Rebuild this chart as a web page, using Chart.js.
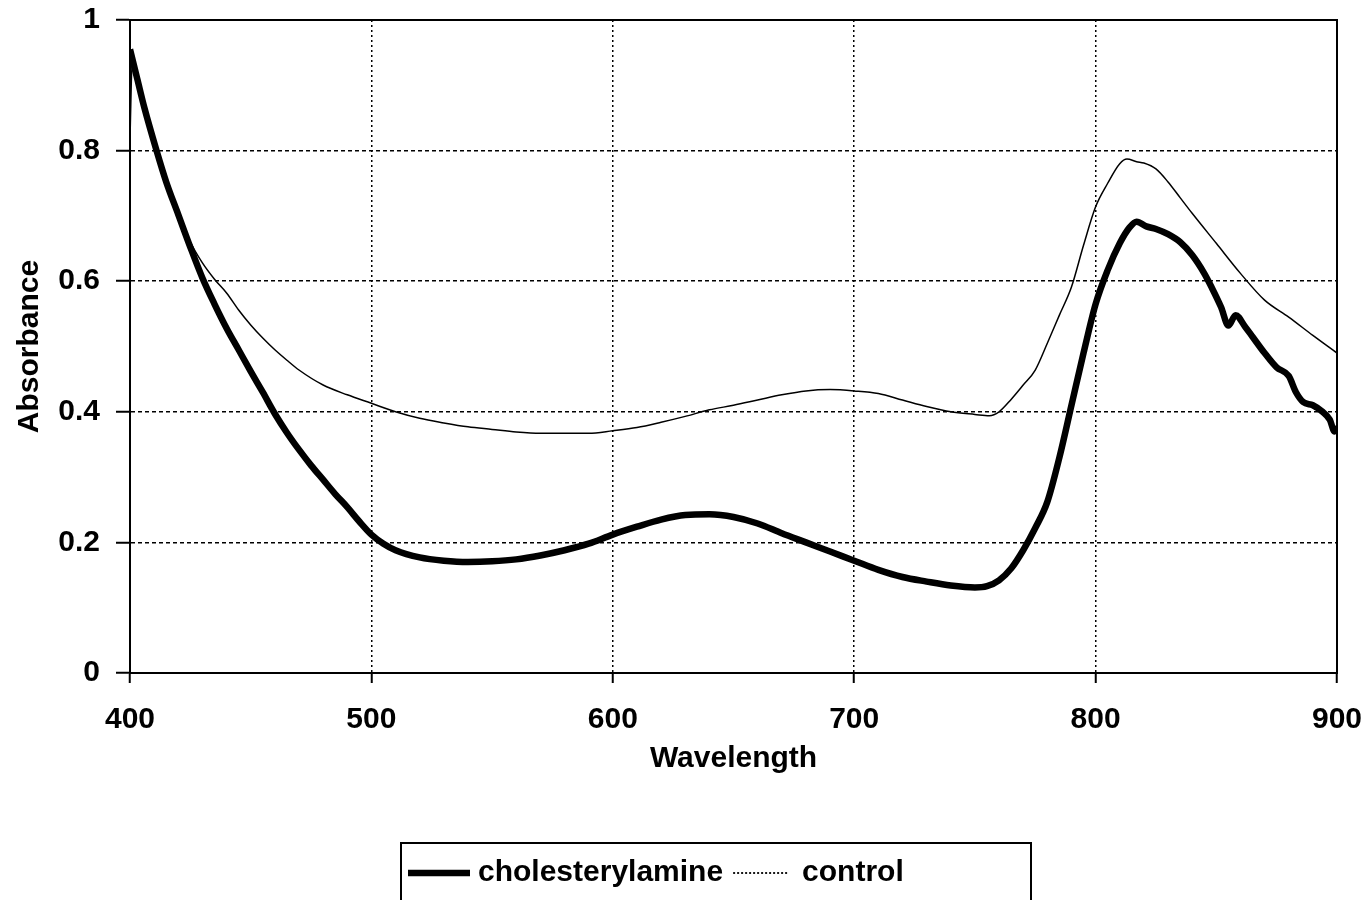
<!DOCTYPE html>
<html>
<head>
<meta charset="utf-8">
<title>Absorbance spectra</title>
<script src="https://cdn.jsdelivr.net/npm/chart.js@4/dist/chart.umd.min.js"></script>
<style>
  html, body { margin: 0; padding: 0; background: #fff; }
  #wrap { width: 1366px; height: 900px; }
</style>
</head>
<body>
<div id="wrap"><canvas id="c" width="1366" height="900"></canvas></div>
<script>
// Wavelength (nm) and absorbance readings for each sample
const cholWavelength = [400,403,406,411,415,420,425,430,435,440,445,450,455,460,465,470,475,480,485,490,495,500,505,510,520,530,540,550,560,570,580,590,600,610,620,630,640,650,660,670,680,690,700,710,720,730,740,750,755,760,765,770,775,780,785,790,795,800,805,810,814,817,821,825,830,835,840,845,848,852,855,858,862,865,870,875,880,883,886,890,894,897,899,900];
const cholAbsorbance = [0.955,0.91,0.865,0.80,0.752,0.702,0.652,0.605,0.565,0.528,0.495,0.462,0.43,0.397,0.368,0.342,0.318,0.296,0.274,0.254,0.232,0.212,0.198,0.188,0.177,0.172,0.170,0.171,0.174,0.180,0.188,0.198,0.212,0.224,0.235,0.242,0.243,0.239,0.229,0.214,0.200,0.186,0.172,0.158,0.147,0.140,0.134,0.131,0.133,0.142,0.160,0.188,0.222,0.262,0.33,0.41,0.49,0.565,0.617,0.658,0.682,0.691,0.684,0.680,0.672,0.660,0.640,0.612,0.591,0.560,0.532,0.548,0.530,0.515,0.490,0.468,0.455,0.430,0.415,0.410,0.400,0.388,0.370,0.378];

const ctrlWavelength = [400,401,403,406,411,415,420,425,430,435,440,445,450,455,460,465,470,480,490,500,510,520,530,540,550,560,570,580,590,600,610,620,630,640,650,660,670,680,690,700,710,720,730,740,750,756,760,765,770,775,780,785,790,795,800,805,810,813,817,820,825,830,835,840,850,860,870,880,890,900];
const ctrlAbsorbance = [0.82,0.945,0.91,0.865,0.80,0.75,0.705,0.66,0.628,0.603,0.582,0.556,0.533,0.513,0.495,0.479,0.464,0.441,0.426,0.413,0.400,0.390,0.383,0.377,0.373,0.369,0.367,0.367,0.367,0.371,0.376,0.384,0.393,0.403,0.410,0.418,0.426,0.432,0.434,0.432,0.428,0.418,0.408,0.400,0.396,0.394,0.400,0.419,0.441,0.464,0.505,0.548,0.591,0.655,0.714,0.750,0.780,0.787,0.783,0.781,0.772,0.752,0.728,0.704,0.658,0.612,0.571,0.545,0.517,0.490];

const seriesNames = ['cholesterylamine', 'control'];
const xTitle = 'Wavelength';
const yTitle = 'Absorbance';

const FONT = 'Liberation Sans, Arial, Helvetica, sans-serif';

function toPoints(xs, ys) {
  return xs.map((x, i) => ({ x: x, y: ys[i] }));
}

// Solid frame around the plotting area
const frame = {
  id: 'frame',
  afterDatasetsDraw(chart) {
    const { ctx, chartArea: a } = chart;
    ctx.save();
    ctx.strokeStyle = '#000';
    ctx.lineWidth = 2;
    ctx.setLineDash([]);
    ctx.strokeRect(a.left, a.top, a.right - a.left, a.bottom - a.top);
    ctx.restore();
  }
};

// Boxed legend below the axis title
const boxLegend = {
  id: 'boxLegend',
  afterDraw(chart) {
    const { ctx } = chart;
    const boxL = 401, boxT = 843, boxR = 1031, boxB = 910;
    const cy = 873;
    ctx.save();
    ctx.strokeStyle = '#000';
    ctx.lineWidth = 2;
    ctx.setLineDash([]);
    ctx.strokeRect(boxL, boxT, boxR - boxL, boxB - boxT);
    ctx.font = 'bold 30px ' + FONT;
    ctx.fillStyle = '#000';
    ctx.textBaseline = 'middle';
    ctx.textAlign = 'left';
    let x = 408;
    chart.data.datasets.forEach((ds, i) => {
      const len = i === 0 ? 62 : 56;
      ctx.beginPath();
      ctx.lineWidth = i === 0 ? 6.5 : 1.8;
      ctx.setLineDash(i === 0 ? [] : [2, 2]);
      ctx.moveTo(x, cy);
      ctx.lineTo(x + len, cy);
      ctx.stroke();
      ctx.setLineDash([]);
      x += len + (i === 0 ? 8 : 13);
      ctx.fillText(ds.label, x, cy);
      x += ctx.measureText(ds.label).width + 10;
    });
    ctx.restore();
  }
};

new Chart(document.getElementById('c'), {
  type: 'line',
  data: {
    datasets: [
      {
        label: seriesNames[0],
        data: toPoints(cholWavelength, cholAbsorbance),
        borderColor: '#000',
        borderWidth: 6.5,
        pointRadius: 0,
        cubicInterpolationMode: 'monotone',
        fill: false
      },
      {
        label: seriesNames[1],
        data: toPoints(ctrlWavelength, ctrlAbsorbance),
        borderColor: '#000',
        borderWidth: 1.5,
        pointRadius: 0,
        cubicInterpolationMode: 'monotone',
        fill: false
      }
    ]
  },
  options: {
    responsive: false,
    animation: false,
    devicePixelRatio: 1,
    layout: { padding: { left: 0, right: 29, top: 20, bottom: 123 } },
    plugins: {
      legend: { display: false },
      tooltip: { enabled: false }
    },
    scales: {
      x: {
        type: 'linear',
        min: 400,
        max: 900,
        ticks: {
          stepSize: 100,
          color: '#000',
          padding: 19,
          maxRotation: 0,
          font: { family: FONT, size: 30, weight: 'bold' }
        },
        grid: {
          color: '#000',
          lineWidth: 1.5,
          tickLength: 10,
          tickColor: '#000',
          tickWidth: 2,
          tickBorderDash: []
        },
        border: { display: true, color: '#000', width: 2, dash: [2, 3] },
        title: {
          display: true,
          text: xTitle,
          color: '#000',
          font: { family: FONT, size: 30, weight: 'bold' },
          padding: { top: 0, bottom: 0 }
        },
        afterFit(scale) {
          scale.height = 104;
          scale.paddingLeft = 0;
          scale.paddingRight = 0;
        }
      },
      y: {
        min: 0,
        max: 1,
        ticks: {
          stepSize: 0.2,
          color: '#000',
          padding: 16,
          font: { family: FONT, size: 30, weight: 'bold' },
          callback: (v) => String(Number(v.toFixed(1)))
        },
        grid: {
          color: '#000',
          lineWidth: 1.5,
          tickLength: 14,
          tickColor: '#000',
          tickWidth: 2,
          tickBorderDash: []
        },
        border: { display: true, color: '#000', width: 2, dash: [4, 3] },
        title: {
          display: true,
          text: yTitle,
          color: '#000',
          font: { family: FONT, size: 30, weight: 'bold' },
          padding: { top: 12, bottom: 0 }
        },
        afterFit(scale) {
          scale.width = 130;
          scale.paddingTop = 0;
          scale.paddingBottom = 0;
        }
      }
    }
  },
  plugins: [frame, boxLegend]
});
</script>
</body>
</html>
